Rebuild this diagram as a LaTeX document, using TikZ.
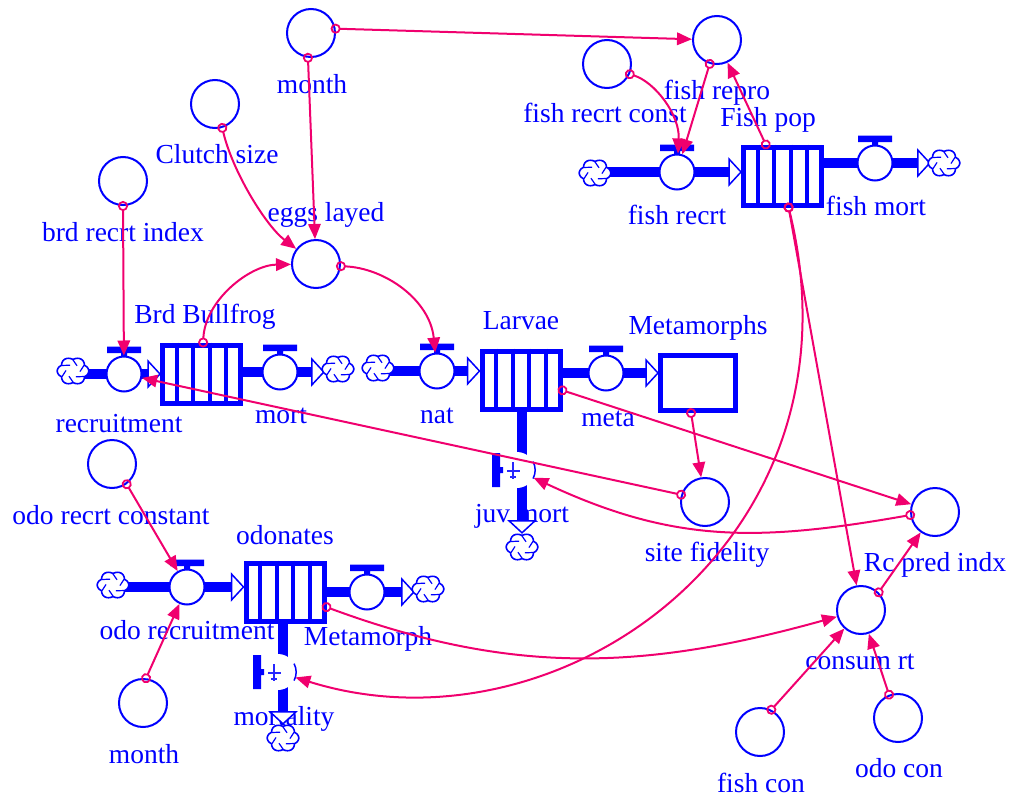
\documentclass[tikz,border=0pt]{standalone}
\usepackage{fontspec}
\setmainfont{Liberation Serif}
\usetikzlibrary{arrows.meta,calc}
\definecolor{flowblue}{RGB}{0,0,255}
\definecolor{linkred}{RGB}{240,0,110}
\pgfdeclarelayer{names}
\pgfdeclarelayer{pipes}
\pgfsetlayers{names,pipes,main}

\tikzset{
  lbl/.style={text=flowblue, font=\fontsize{27.5}{30}\selectfont, inner sep=0pt, anchor=base},
  aux/.style={circle, draw=flowblue, line width=2pt, fill=white, minimum size=48pt, inner sep=0pt},
  valve/.style={circle, draw=flowblue, line width=2pt, fill=white, minimum size=35pt, inner sep=0pt},
  ghost/.style={circle, fill=white, minimum size=36pt, inner sep=0pt},
  stock/.style={rectangle, draw=flowblue, line width=5pt, fill=white, minimum width=78pt, minimum height=58pt, inner sep=0pt},
  sink/.style={circle, minimum size=28pt, inner sep=0pt},
  pipe/.style={draw=flowblue, line width=10pt, shorten >=10pt},
  link/.style={draw=linkred, line width=2pt, shorten <=-5pt,
    arrows={Circle[open,length=10pt,width=10pt,line width=1.8pt]-Triangle[length=15pt,width=12.5pt]}},
  cloudicon/.pic={
    \draw[flowblue, line width=1.6pt, fill=white]
      plot[domain=0:360, samples=145, variable=\t]
      ({1.05*(12.5+2.5*abs(cos(3*\t)))*cos(\t)}, {0.92*(12.5+2.5*abs(cos(3*\t)))*sin(\t)}) -- cycle;
    \foreach \a in {30,90,...,330}
      \draw[flowblue, line width=1.2pt] ({1.05*12*cos(\a)},{0.92*12*sin(\a)})
        .. controls ({8.5*cos(\a+12)},{7.8*sin(\a+12)}) .. ({7*cos(\a+35)},{6.4*sin(\a+35)});
  },
  headR/.pic={\draw[flowblue, line width=1.5pt, fill=white] (0,0) -- (-12,-13) -- (-12,13) -- cycle;},
  headD/.pic={\draw[flowblue, line width=1.5pt, fill=white] (0,0) -- (-13,-12) -- (13,-12) -- cycle;},
  tbar/.pic={\fill[flowblue] (-17,-9) rectangle (17,-2.5) (-3,-3) rectangle (3,1);},
  sidebar/.pic={\fill[flowblue] (-25,-17) rectangle (-17,17) (-18,-3) rectangle (-14,3);},
  grd/.pic={\draw[flowblue!85, line width=1.2pt] (-4,-8) -- (-4,9) (-10,1) -- (3,1) (-7,7) -- (-1,7);},
}

\begin{document}
\begin{tikzpicture}[x=1pt,y=-1pt]
\useasboundingbox (0,0) rectangle (1013,798);

% ---------- stocks ----------
\node[stock] (brd) at (201.5,374) {};
\node[stock] (larvae) at (521,380) {};
\node[stock] (fishpop) at (782.5,176) {};
\node[stock] (odon) at (285,592) {};
\node[stock, minimum width=75pt, minimum height=55pt] (metas) at (698,383) {};
\foreach \s in {brd,larvae,fishpop,odon}
  \foreach \k in {1,2,3,4}
    \draw[flowblue, line width=4pt]
      ($(\s.north west)!\k/5!(\s.north east)$) -- ($(\s.south west)!\k/5!(\s.south east)$);

% ---------- flow valves ----------
\node[valve] (recruit) at (124,374) {};
\node[valve] (mortv) at (280,372) {};
\node[valve] (natv) at (437,371) {};
\node[valve] (metav) at (606,373) {};
\node[valve] (fishrecrt) at (677,172) {};
\node[valve] (fishmort) at (875,163) {};
\node[valve] (odorec) at (187,587) {};
\node[valve] (metaph) at (367,592) {};
\foreach \v in {recruit,mortv,natv,metav,fishrecrt,fishmort,odorec,metaph}
  \pic at (\v.north) {tbar};

% valves drawn with a side bar (vertical outflows)
\node[ghost] (juvmort) at (517,470) {};
\node[ghost] (mortal) at (278,672) {};
\foreach \v in {juvmort,mortal} {
  \pic at (\v) {sidebar};
  \pic at (\v) {grd};
  \draw[flowblue, line width=1.5pt] (\v.-28) arc[start angle=28, end angle=-28, radius=18];
}

% ---------- sources and sinks ----------
\node[sink] (c1) at (73,371) {};
\node[sink] (c2) at (338,369) {};
\node[sink] (c3) at (378,368) {};
\node[sink] (c4) at (522,547) {};
\node[sink] (c5) at (595,173) {};
\node[sink] (c6) at (944,163) {};
\node[sink] (c7) at (113,585) {};
\node[sink] (c8) at (428,589) {};
\node[sink] (c9) at (283,738) {};
\foreach \c in {c1,c2,c3,c4,c5,c6,c7,c8,c9}
  \pic at (\c) {cloudicon};

% ---------- pipes ----------
\begin{pgfonlayer}{pipes}
\draw[pipe] (c1 |- recruit) -- (brd.west |- recruit);
\pic at (brd.west |- recruit) {headR};
\draw[pipe] (brd.east |- mortv) -- (c2.west |- mortv);
\pic at (c2.west |- mortv) {headR};
\draw[pipe] (c3 |- natv) -- (larvae.west |- natv);
\pic at (larvae.west |- natv) {headR};
\draw[pipe] (larvae.east |- metav) -- (metas.west |- metav);
\pic at (metas.west |- metav) {headR};
\draw[pipe] (c4 |- larvae.south) -- (c4.north);
\pic at (c4.north) {headD};
\draw[pipe] (c5 |- fishrecrt) -- (fishpop.west |- fishrecrt);
\pic at (fishpop.west |- fishrecrt) {headR};
\draw[pipe] (fishpop.east |- fishmort) -- (c6.west |- fishmort);
\pic at (c6.west |- fishmort) {headR};
\draw[pipe] (c7 |- odorec) -- (odon.west |- odorec);
\pic at (odon.west |- odorec) {headR};
\draw[pipe] (odon.east |- metaph) -- (c8.west |- metaph);
\pic at (c8.west |- metaph) {headR};
\draw[pipe] (c9 |- odon.south) -- (c9.north);
\pic at (c9.north) {headD};
\end{pgfonlayer}

% ---------- converters ----------
\node[aux] (month1) at (311,33) {};
\node[aux] (fishrepro) at (717,40) {};
\node[aux] (fishconst) at (607,64) {};
\node[aux] (clutch) at (215,104) {};
\node[aux] (brdidx) at (123,181) {};
\node[aux] (eggs) at (316,264) {};
\node[aux] (sitefid) at (705,502) {};
\node[aux] (rcpred) at (935,512) {};
\node[aux] (odoconst) at (112,464) {};
\node[aux] (consum) at (861,610) {};
\node[aux] (month2) at (143,703) {};
\node[aux] (fishcon) at (760,732) {};
\node[aux] (odocon) at (898,718) {};

% ---------- names ----------
\begin{pgfonlayer}{names}
\node[lbl] (lmonth1) at (312,93) {month};
\node[lbl] (lfishrepro) at (717,99) {fish repro};
\node[lbl] (lfishconst) at (605,122) {fish recrt const};
\node[lbl] (lfishpop) at (768,126) {Fish pop};
\node[lbl] (lclutch) at (217,163) {Clutch size};
\node[lbl] (leggs) at (326,221) {eggs layed};
\node[lbl] (lbrdidx) at (123,241) {brd recrt index};
\node[lbl] (lfishrecrt) at (677,224) {fish recrt};
\node[lbl] (lfishmort) at (876,215) {fish mort};
\node[lbl] (lbrd) at (205,323) {Brd Bullfrog};
\node[lbl] (llarvae) at (521,329) {Larvae};
\node[lbl] (lmetas) at (698,334) {Metamorphs};
\node[lbl] (lrecruit) at (119,432) {recruitment};
\node[lbl] (lmort) at (281,423) {mort};
\node[lbl] (lnat) at (437,423) {nat};
\node[lbl] (lmeta) at (608,426) {meta};
\node[lbl] (ljuvmort) at (522,522) {juv mort};
\node[lbl] (lsitefid) at (707,561) {site fidelity};
\node[lbl] (lrcpred) at (935,571) {Rc pred indx};
\node[lbl] (lodoconst) at (111,524) {odo recrt constant};
\node[lbl] (lodon) at (285,544) {odonates};
\node[lbl] (lodorec) at (187,639) {odo recruitment};
\node[lbl] (lmetaph) at (368,645) {Metamorph};
\node[lbl] (lmortal) at (284,725) {mortality};
\node[lbl] (lmonth2) at (144,763) {month};
\node[lbl] (lconsum) at (860,669) {consum rt};
\node[lbl] (lfishcon) at (761,792) {fish con};
\node[lbl] (lodocon) at (899,777) {odo con};
\end{pgfonlayer}

% ---------- information links ----------
\draw[link] (month1.10) -- (fishrepro);
\draw[link] (month1.-97) -- (eggs);
\draw[link] (clutch.-73) .. controls (232,170) and (265,225) .. (eggs);
\draw[link] (fishconst.-24) .. controls (655,82) and (680,115) .. (fishrecrt);
\draw[link] (fishrepro.-107) -- (fishrecrt);
\draw[link] (fishpop.118) -- (fishrepro);
\draw[link] (brdidx.south) -- (recruit);
\draw[link] (brd.87) .. controls (205,300) and (250,265) .. (eggs);
\draw[link] (eggs.-5) .. controls (385,268) and (430,300) .. (natv);
\draw[link] (larvae.-14) -- (rcpred);
\draw[link] (rcpred.187) .. controls (757,542) and (673,543) .. (juvmort);
\draw[link] (sitefid.163) -- (recruit);
\draw[link] (metas.-103) -- (sitefid);
\draw[link] (fishpop.-79) -- (consum);
\draw[link] (fishpop.-79) .. controls (870,540) and (560,760) .. (mortal);
\draw[link] (odon.-20) .. controls (513,676) and (645,670) .. (consum);
\draw[link] (odoconst.-54) -- (odorec);
\draw[link] (month2.83) -- (odorec);
\draw[link] (fishcon.63) -- (consum);
\draw[link] (odocon.111) -- (consum);
\draw[link] (consum.45) -- (rcpred);
\end{tikzpicture}
\end{document}
